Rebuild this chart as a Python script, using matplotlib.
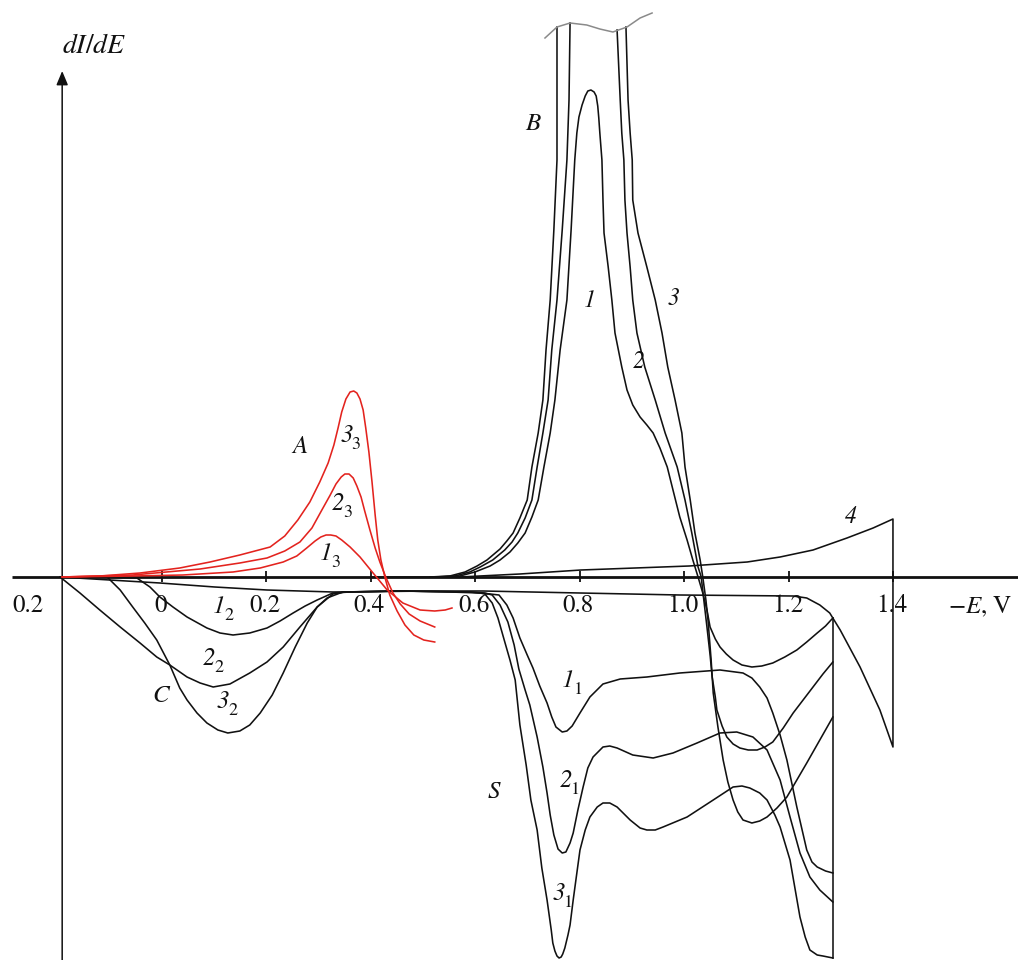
import numpy as np
import matplotlib
matplotlib.use("Agg")
import matplotlib.pyplot as plt

plt.rcParams['font.family'] = ['STIXGeneral', 'DejaVu Serif']
plt.rcParams['mathtext.fontset'] = 'stix'

# ---------------- data (E in V, dI/dE in arbitrary units) ----------------
tick_vals = [0.0, 0.2, 0.4, 0.6, 0.8, 1.0, 1.2, 1.4]
tick_labels = ["0", "0.2", "0.4", "0.6", "0.8", "1.0", "1.2", "1.4"]
left_label = "0.2"

# red anodic peaks A (curves 1_3, 2_3, 3_3)
r1_E = [-0.191, -0.056, 0.040, 0.136, 0.188, 0.232, 0.258, 0.277, 0.293, 0.304, 0.314, 0.323, 0.333, 0.344, 0.360, 0.379, 0.404, 0.431, 0.461, 0.494, 0.522, 0.542, 0.555]
r1_I = [0.00, 0.01, 0.02, 0.05, 0.09, 0.15, 0.21, 0.29, 0.36, 0.40, 0.42, 0.42, 0.41, 0.37, 0.30, 0.20, 0.04, -0.13, -0.26, -0.33, -0.34, -0.33, -0.31]
r2_E = [-0.191, -0.056, 0.073, 0.149, 0.201, 0.235, 0.264, 0.287, 0.306, 0.322, 0.333, 0.343, 0.350, 0.358, 0.366, 0.373, 0.381, 0.388, 0.398, 0.408,
        0.417, 0.429, 0.442, 0.456, 0.473, 0.494, 0.522]
r2_I = [0.00, 0.02, 0.08, 0.14, 0.19, 0.26, 0.35, 0.49, 0.67, 0.82, 0.93, 1.00, 1.03, 1.03, 0.99, 0.91, 0.80, 0.66, 0.47, 0.29,
        0.15, -0.01, -0.16, -0.27, -0.37, -0.44, -0.50]
r3_E = [-0.191, -0.119, -0.042, 0.034, 0.092, 0.149, 0.207, 0.235, 0.260, 0.283, 0.302, 0.318, 0.329, 0.337, 0.344, 0.352, 0.360, 0.367, 0.373, 0.379,
        0.385, 0.390, 0.396, 0.402, 0.408, 0.413, 0.419, 0.427, 0.436, 0.450, 0.465, 0.482, 0.501, 0.522]
r3_I = [0.00, 0.01, 0.04, 0.09, 0.15, 0.22, 0.30, 0.41, 0.57, 0.75, 0.95, 1.14, 1.32, 1.49, 1.65, 1.78, 1.85, 1.86, 1.84, 1.78,
        1.67, 1.49, 1.25, 0.95, 0.62, 0.37, 0.17, -0.01, -0.18, -0.34, -0.48, -0.58, -0.63, -0.65]

# B peaks, forward scan (curves 1, 2, 3)
b1_E = [0.532, 0.570, 0.599, 0.628, 0.647, 0.666, 0.681, 0.695, 0.708, 0.720, 0.731, 0.743, 0.752, 0.762, 0.775, 0.783,
        0.790, 0.794, 0.798, 0.804, 0.810, 0.815, 0.821, 0.827, 0.831, 0.834, 0.836, 0.838, 0.842,
        0.844, 0.846, 0.854, 0.861, 0.867, 0.880, 0.890, 0.901, 0.915, 0.928, 0.940, 0.953, 0.967, 0.978, 0.991,
        1.005, 1.016, 1.026, 1.035, 1.043, 1.049, 1.059, 1.068, 1.080, 1.093, 1.110, 1.129, 1.148, 1.169, 1.192, 1.215, 1.234, 1.254, 1.270, 1.284]
b1_I = [0.00, 0.01, 0.05, 0.11, 0.17, 0.25, 0.34, 0.44, 0.60, 0.77, 1.10, 1.44, 1.77, 2.27, 2.77, 3.47,
        4.17, 4.44, 4.60, 4.72, 4.81, 4.86, 4.87, 4.85, 4.81, 4.71, 4.59, 4.44, 4.17,
        3.77, 3.44, 3.10, 2.77, 2.44, 2.10, 1.87, 1.72, 1.60, 1.52, 1.44, 1.29, 1.10, 0.87, 0.60,
        0.37, 0.17, 0.00, -0.16, -0.33, -0.50, -0.62, -0.70, -0.77, -0.83, -0.88, -0.90, -0.89, -0.86, -0.80, -0.73, -0.65, -0.56, -0.49, -0.41]

b2_up_E = [0.522, 0.561, 0.589, 0.609, 0.633, 0.656, 0.670, 0.681, 0.695, 0.708, 0.718, 0.729, 0.739, 0.746, 0.756, 0.766, 0.775, 0.779, 0.781]
b2_up_I = [0.00, 0.01, 0.05, 0.10, 0.17, 0.27, 0.35, 0.44, 0.59, 0.77, 1.10, 1.44, 1.77, 2.27, 2.77, 3.47, 4.17, 4.77, 5.54]
b2_dn_E = [0.871, 0.877, 0.880, 0.884, 0.886, 0.890, 0.896, 0.901, 0.909, 0.924, 0.944, 0.963, 0.986, 1.001, 1.014, 1.026, 1.032, 1.037, 1.043, 1.049,
           1.053, 1.059, 1.062, 1.072, 1.081, 1.093, 1.106, 1.122, 1.139, 1.154, 1.169, 1.189, 1.208, 1.227, 1.246, 1.265, 1.284]
b2_dn_I = [5.47, 4.77, 4.44, 4.17, 3.77, 3.44, 3.10, 2.77, 2.44, 2.10, 1.77, 1.44, 1.10, 0.77, 0.44, 0.10, 0.00, -0.23, -0.50, -0.78,
           -1.00, -1.20, -1.33, -1.49, -1.60, -1.67, -1.71, -1.73, -1.73, -1.70, -1.65, -1.51, -1.36, -1.23, -1.10, -0.97, -0.85]

b3_up_E = [0.513, 0.551, 0.580, 0.603, 0.622, 0.647, 0.660, 0.672, 0.685, 0.699, 0.708, 0.720, 0.729, 0.735, 0.743, 0.750, 0.756, 0.756, 0.756]
b3_up_I = [0.00, 0.01, 0.05, 0.11, 0.17, 0.28, 0.36, 0.44, 0.59, 0.77, 1.10, 1.44, 1.77, 2.27, 2.77, 3.47, 4.17, 4.77, 5.50]
b3_dn_E = [0.888, 0.892, 0.896, 0.900, 0.901, 0.911, 0.928, 0.944, 0.957, 0.968, 0.982, 0.995, 1.001, 1.011, 1.020, 1.030, 1.035, 1.041, 1.045, 1.051,
           1.055, 1.064, 1.074, 1.083, 1.093, 1.102, 1.112, 1.129, 1.144, 1.158, 1.177, 1.196, 1.215, 1.234, 1.259, 1.284]
b3_dn_I = [5.50, 4.77, 4.44, 4.17, 3.77, 3.44, 3.10, 2.77, 2.44, 2.10, 1.77, 1.44, 1.10, 0.77, 0.44, 0.17, 0.00, -0.23, -0.43, -0.83,
           -1.16, -1.50, -1.83, -2.05, -2.23, -2.35, -2.43, -2.46, -2.44, -2.40, -2.31, -2.20, -2.03, -1.86, -1.63, -1.40]

# reverse scans: C peaks (i_2) + S peaks (i_1)
low1_E = [-0.119, -0.048, -0.023, -0.004, 0.021, 0.048, 0.086, 0.111, 0.136, 0.168, 0.201, 0.226, 0.251, 0.274, 0.297, 0.327, 0.360, 0.456, 0.551, 0.609,
          0.628, 0.645, 0.660, 0.672, 0.685, 0.699, 0.710, 0.723, 0.737, 0.746, 0.754, 0.766, 0.775, 0.785, 0.800, 0.819, 0.844, 0.877, 0.928, 0.991,
          1.068, 1.112, 1.129, 1.144, 1.158, 1.169, 1.183, 1.196, 1.215, 1.234, 1.244, 1.254, 1.270, 1.284]
low1_I = [0.00, -0.01, -0.10, -0.20, -0.30, -0.40, -0.51, -0.56, -0.58, -0.56, -0.51, -0.44, -0.36, -0.29, -0.23, -0.16, -0.15, -0.14, -0.15, -0.16,
          -0.17, -0.18, -0.28, -0.41, -0.61, -0.78, -0.91, -1.09, -1.26, -1.40, -1.50, -1.55, -1.54, -1.49, -1.36, -1.20, -1.07, -1.02, -1.00, -0.96,
          -0.93, -0.96, -1.01, -1.10, -1.21, -1.36, -1.58, -1.83, -2.30, -2.73, -2.85, -2.90, -2.94, -2.96]

low2_E = [-0.195, -0.157, -0.119, -0.080, -0.042, -0.010, 0.015, 0.048, 0.073, 0.098, 0.130, 0.168, 0.201, 0.232, 0.264, 0.297, 0.327, 0.350, 0.456, 0.589,
          0.618, 0.632, 0.647, 0.662, 0.674, 0.683, 0.695, 0.704, 0.718, 0.729, 0.737, 0.743, 0.750, 0.758, 0.766, 0.773, 0.781, 0.787, 0.796, 0.806,
          0.815, 0.825, 0.844, 0.857, 0.871, 0.901, 0.940, 0.978, 1.024, 1.068, 1.100, 1.131, 1.158, 1.183, 1.202, 1.221, 1.240, 1.259, 1.284]
low2_I = [0.00, -0.16, -0.33, -0.50, -0.66, -0.80, -0.88, -1.00, -1.06, -1.10, -1.07, -0.96, -0.85, -0.70, -0.50, -0.30, -0.17, -0.15, -0.14, -0.15,
          -0.16, -0.18, -0.28, -0.45, -0.68, -0.92, -1.13, -1.28, -1.60, -1.90, -2.16, -2.38, -2.58, -2.72, -2.76, -2.75, -2.66, -2.56, -2.33, -2.10,
          -1.91, -1.80, -1.70, -1.69, -1.71, -1.78, -1.81, -1.76, -1.66, -1.56, -1.55, -1.60, -1.73, -2.03, -2.40, -2.76, -3.00, -3.13, -3.25]

low3_E = [-0.105, -0.080, -0.056, -0.033, -0.010, 0.015, 0.034, 0.048, 0.067, 0.086, 0.107, 0.126, 0.149, 0.168, 0.188, 0.211, 0.232, 0.255, 0.278, 0.297,
          0.316, 0.346, 0.456, 0.589, 0.609, 0.618, 0.632, 0.643, 0.655, 0.666, 0.676, 0.685, 0.697, 0.706, 0.718, 0.727, 0.737,
          0.745, 0.748, 0.752, 0.756, 0.760, 0.764, 0.767, 0.771, 0.777, 0.781,
          0.787, 0.794, 0.800, 0.810, 0.819, 0.833, 0.844, 0.857, 0.871, 0.896, 0.915, 0.928, 0.944, 0.959, 1.005, 1.055, 1.093,
          1.110, 1.125, 1.144, 1.158, 1.173, 1.183, 1.202, 1.221, 1.231, 1.240, 1.254, 1.265, 1.284]
low3_I = [0.00, -0.13, -0.30, -0.46, -0.63, -0.88, -1.11, -1.23, -1.36, -1.46, -1.53, -1.56, -1.54, -1.48, -1.36, -1.18, -0.96, -0.70, -0.46, -0.30,
          -0.21, -0.15, -0.14, -0.15, -0.16, -0.17, -0.26, -0.41, -0.63, -0.83, -1.03, -1.48, -1.88, -2.23, -2.53, -2.91, -3.23,
          -3.53, -3.66, -3.74, -3.79, -3.81, -3.80, -3.77, -3.71, -3.58, -3.48,
          -3.23, -2.96, -2.73, -2.53, -2.40, -2.30, -2.26, -2.26, -2.30, -2.43, -2.51, -2.53, -2.53, -2.50, -2.40, -2.23, -2.10,
          -2.09, -2.11, -2.16, -2.23, -2.38, -2.50, -2.83, -3.40, -3.60, -3.73, -3.78, -3.79, -3.81]

# curve 4 (background), closed loop
c4_E = [0.400, 0.570, 0.685, 0.802, 1.009, 1.120, 1.183, 1.246, 1.311, 1.361, 1.399, 1.399, 1.374, 1.336, 1.298, 1.278, 1.259, 1.234, 1.208, 0.991,
        0.800, 0.614, 0.519, 0.327, 0.201, 0.101, -0.004, -0.100, -0.195]
c4_I = [0.00, 0.00, 0.03, 0.07, 0.11, 0.15, 0.20, 0.27, 0.39, 0.49, 0.58, -1.70, -1.33, -0.90, -0.53, -0.36, -0.28, -0.21, -0.19, -0.18,
        -0.16, -0.14, -0.14, -0.15, -0.13, -0.10, -0.06, -0.03, 0.00]

# break mark at the top of the B peaks
cut_E = [0.733, 0.756, 0.781, 0.813, 0.838, 0.863, 0.890, 0.915, 0.938]
cut_I = [5.39, 5.50, 5.54, 5.52, 5.48, 5.45, 5.50, 5.59, 5.64]

# ---------------- drawing ----------------
fig = plt.figure(figsize=(10.18, 9.6), dpi=100)
ax = fig.add_axes([0, 0, 1, 1])
ax.set_xlim(-0.3100, 1.6383)
ax.set_ylim(-3.83, 5.77)
ax.axis('off')

K = '#111111'
RED = '#e3231e'
LW = 1.15

# axes
y_axis_E = -0.191
ax.plot([-0.287, 1.6383], [0, 0], color=K, lw=2.0, solid_capstyle='butt', zorder=3)
ax.annotate("", xy=(y_axis_E, 5.06), xytext=(y_axis_E, -3.83),
            arrowprops=dict(arrowstyle='-|>,head_length=0.6,head_width=0.25', color=K, lw=1.1,
                            shrinkA=0, shrinkB=0, mutation_scale=14))
ax.vlines(tick_vals, -0.05, 0.06, color=K, lw=1.3, zorder=3)
for v, lab in zip(tick_vals, tick_labels):
    ax.text(v - 0.003, -0.345, lab, fontsize=18, ha='center', va='baseline', color=K)
ax.text(-0.256, -0.345, left_label, fontsize=18, ha='center', va='baseline', color=K)
ax.text(1.504, -0.36, r"$-\mathit{E}$, V", fontsize=18, ha='left', va='baseline', color=K)
ax.text(-0.191, 5.24, r"$dI/dE$", fontsize=20, ha='left', va='baseline', color=K)

# curves
for E, I in [(b1_E, b1_I), (b2_up_E, b2_up_I), (b2_dn_E, b2_dn_I), (b3_up_E, b3_up_I), (b3_dn_E, b3_dn_I),
             (low1_E, low1_I), (low2_E, low2_I), (low3_E, low3_I), (c4_E, c4_I)]:
    ax.plot(E, I, color=K, lw=LW, solid_joinstyle='round')

# vertical switching line of curves 1-3
v_top = max(b1_I[-1], b2_dn_I[-1], b3_dn_I[-1])
v_bot = min(low1_I[-1], low2_I[-1], low3_I[-1])
ax.plot([b1_E[-1], b1_E[-1]], [v_top, v_bot], color=K, lw=LW)

for E, I in [(r1_E, r1_I), (r2_E, r2_I), (r3_E, r3_I)]:
    ax.plot(E, I, color=RED, lw=LW, solid_joinstyle='round', zorder=4)

ax.plot(cut_E, cut_I, color='#8a8a8a', lw=1.1)

# labels (italic main symbol, upright subscript)
def lab(main, sub, E, I, size=18):
    ax.text(E, I, main, fontsize=size, style='italic', ha='left', va='baseline', color=K)
    if sub:
        ax.annotate(sub, xy=(E, I), xytext=(0.45 * size, -0.28 * size), textcoords='offset points',
                    fontsize=0.72 * size, ha='left', va='baseline', color=K)

lab("A", None, 0.250, 1.24)
lab("B", None, 0.695, 4.47)
lab("C", None, -0.019, -1.25)
lab("S", None, 0.624, -2.21)
lab("3", "3", 0.341, 1.35)
lab("2", "3", 0.325, 0.67)
lab("1", "3", 0.302, 0.17)
lab("1", None, 0.807, 2.70, 17)
lab("2", None, 0.900, 2.09, 17)
lab("3", None, 0.968, 2.72, 17)
lab("4", None, 1.307, 0.54, 17)
lab("1", "2", 0.098, -0.36)
lab("2", "2", 0.078, -0.88)
lab("3", "2", 0.105, -1.31)
lab("1", "1", 0.766, -1.10)
lab("2", "1", 0.762, -2.10)
lab("3", "1", 0.748, -3.23)

fig.savefig("out.png", dpi=100)
